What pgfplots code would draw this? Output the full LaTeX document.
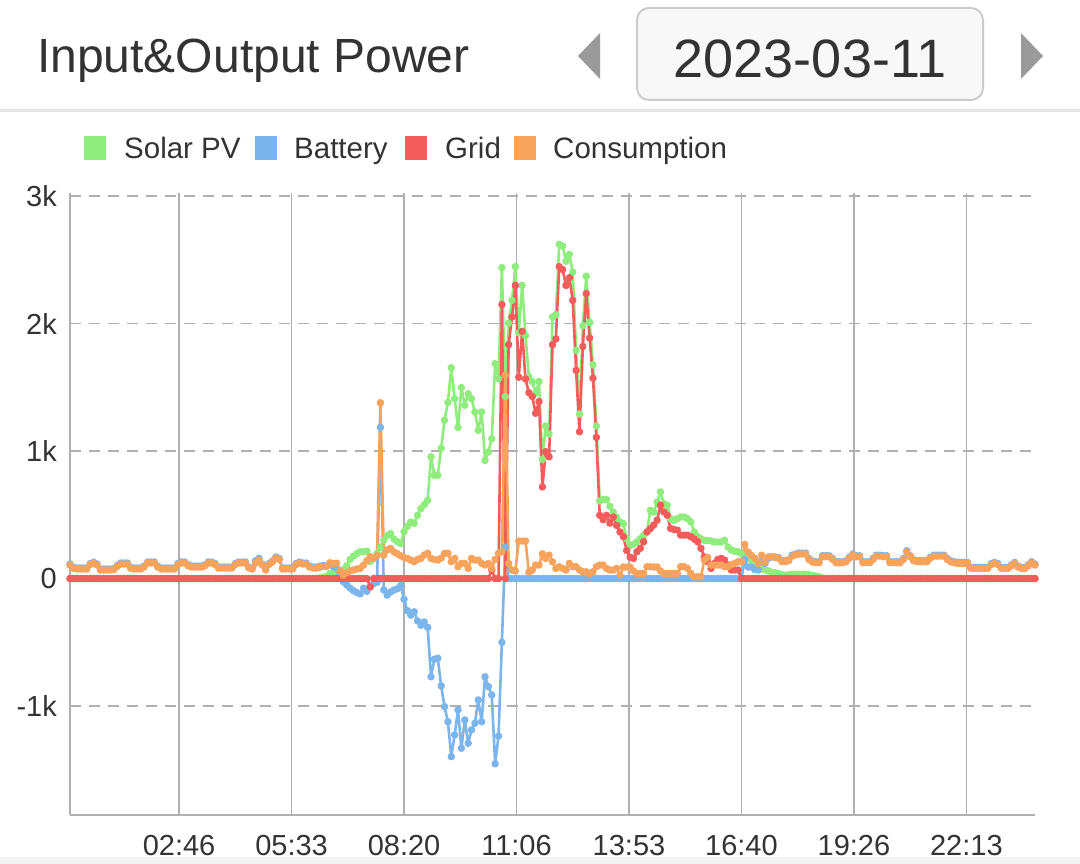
\documentclass[border=0pt]{standalone}
\usepackage{fontspec}
\setmainfont{Liberation Sans}
\usepackage{pgfplots}
\usepackage{pgfplotstable}
\pgfplotsset{compat=1.18}
\definecolor{pvgreen}{HTML}{90ED7D}
\definecolor{batblue}{HTML}{7CB5EC}
\definecolor{gridred}{HTML}{F45B5B}
\definecolor{loadorange}{HTML}{F7A35C}
\definecolor{gridgray}{HTML}{B0B0B0}
\definecolor{textgray}{HTML}{333333}
\definecolor{arrowgray}{HTML}{9A9A9A}
\definecolor{boxgray}{HTML}{CCCCCC}
\definecolor{boxfill}{HTML}{F8F8F8}
\definecolor{sepgray}{HTML}{E4E4E4}
\definecolor{bandgray}{HTML}{F2F2F2}

\pgfplotstableread{
t pv bat grid load
5 0 114 0 106
10 0 88 0 80
15 0 83 0 75
20 0 83 0 75
25 0 83 0 75
30 0 83 0 75
35 0 118 0 110
40 0 128 0 120
45 0 114 0 106
50 0 75 0 67
55 0 75 0 67
60 0 75 0 67
65 0 75 0 67
70 0 78 0 70
75 0 103 0 95
80 0 122 0 114
85 0 122 0 114
90 0 122 0 114
95 0 88 0 80
100 0 83 0 75
105 0 83 0 75
110 0 83 0 75
115 0 98 0 90
120 0 130 0 122
125 0 130 0 122
130 0 130 0 122
135 0 98 0 90
140 0 83 0 75
145 0 83 0 75
150 0 83 0 75
155 0 83 0 75
160 0 83 0 75
165 0 118 0 110
170 0 130 0 122
175 0 130 0 122
180 0 108 0 100
185 0 98 0 90
190 0 98 0 90
195 0 98 0 90
200 0 98 0 90
205 0 108 0 100
210 0 130 0 122
215 0 130 0 122
220 0 118 0 110
225 0 90 0 82
230 0 90 0 82
235 0 90 0 82
240 0 90 0 82
245 0 90 0 82
250 0 118 0 110
255 0 130 0 122
260 0 130 0 122
265 0 130 0 122
270 0 90 0 82
275 0 83 0 75
280 0 140 0 120
285 0 160 0 145
290 0 114 0 106
295 0 75 0 67
300 0 118 0 110
305 0 138 0 130
310 0 169 0 161
315 0 158 0 150
320 0 83 0 75
325 0 83 0 75
330 0 83 0 75
335 0 83 0 75
340 0 118 0 110
345 0 130 0 122
350 0 122 0 114
355 0 122 0 114
360 0 98 0 90
365 0 90 0 82
370 0 90 0 82
375 5 96 0 88
380 10 103 0 95
385 15 100 0 95
390 40 110 0 124
395 50 95 0 118
400 60 80 0 121
405 65 40 0 60
410 70 -25 0 27
415 100 -50 0 45
420 150 -75 0 60
425 176 -95 0 67
430 195 -110 0 75
435 210 -120 0 80
440 210 -75 0 106
445 215 -100 0 140
450 132 -65 -65 171
455 160 -40 0 158
460 200 -30 0 180
465 245 1186 0 1379
470 300 -90 0 184
475 338 -130 0 224
480 352 -105 0 237
485 310 -90 0 210
490 290 -80 0 195
495 275 -55 0 179
500 367 -162 0 165
505 410 -252 0 158
510 443 -287 0 145
515 433 -261 0 132
520 496 -332 0 150
525 549 -366 0 158
530 580 -340 0 185
535 614 -383 0 198
540 955 -770 0 158
545 811 -633 0 150
550 811 -625 0 145
555 1022 -842 0 160
560 1242 -1005 0 198
565 1381 -1123 0 198
570 1654 -1397 0 132
575 1411 -1226 0 158
580 1185 -1030 0 93
585 1499 -1331 0 119
590 1359 -1109 0 119
595 1450 -1292 0 80
600 1411 -1187 0 158
605 1307 -1135 0 145
610 1163 -952 0 145
615 1307 -1123 0 119
620 927 -770 0 106
625 992 -848 0 119
630 1097 -913 67 80
635 1686 -1454 0 150
640 1568 -1236 0 198
645 2440 -500 2150 210
650 1428 246 0 1596
655 2005 0 1835 119
660 2183 0 2053 67
665 2447 0 2300 60
670 1927 0 1580 294
675 2300 0 1940 294
680 1906 0 1565 294
685 1585 0 1459 50
690 1546 0 1428 67
695 1454 0 1297 106
700 1546 0 1389 106
705 935 0 719 194
710 1197 0 995 158
715 1134 0 956 184
720 2053 0 1835 132
725 2071 0 1880 80
730 2622 0 2447 93
735 2609 0 2425 80
740 2490 0 2300 67
745 2543 0 2360 119
750 2404 0 2183 93
755 1790 0 1633 93
760 1291 0 1152 67
765 1984 0 1821 53
770 2372 0 2236 53
775 2010 0 1887 40
780 1677 0 1572 53
785 1197 0 1108 93
790 609 0 496 106
795 620 0 462 106
800 620 0 496 80
805 567 0 435 67
810 522 0 483 67
815 480 0 417 80
820 444 0 366 27
825 431 0 329 90
830 313 0 220 90
835 260 0 168 90
840 270 0 158 60
845 287 0 210 40
850 313 0 237 40
855 340 0 289 40
860 366 0 366 93
865 535 0 392 93
870 522 0 420 90
875 600 0 458 90
880 680 0 575 60
885 588 0 523 40
890 575 0 497 40
895 470 0 393 40
900 457 0 385 40
905 470 0 380 40
910 483 0 341 93
915 483 0 341 93
920 470 0 341 80
925 444 0 328 40
930 366 0 310 14
935 330 0 289 14
940 313 0 237 14
945 300 0 171 145
950 298 0 132 166
955 295 0 80 106
960 287 0 119 106
965 287 0 150 106
970 287 0 158 106
975 300 0 145 93
980 248 0 106 93
985 224 0 67 110
990 215 0 67 119
995 210 0 67 132
1000 196 0 0 132
1005 180 150 0 268
1010 171 90 0 208
1015 140 90 0 180
1020 119 70 0 158
1025 95 67 0 119
1030 75 130 0 184
1035 67 119 0 130
1040 60 160 0 171
1045 50 170 0 171
1050 46 170 0 166
1055 40 165 0 160
1060 30 140 0 132
1065 27 140 0 132
1070 30 148 0 140
1075 35 184 0 176
1080 35 193 0 185
1085 35 200 0 192
1090 35 200 0 192
1095 35 200 0 192
1100 30 158 0 150
1105 25 138 0 130
1110 20 132 0 124
1115 15 132 0 124
1120 5 179 0 171
1125 0 179 0 171
1130 0 179 0 171
1135 0 158 0 150
1140 0 132 0 124
1145 0 132 0 124
1150 0 132 0 124
1155 0 140 0 132
1160 0 168 0 160
1165 0 192 0 184
1170 0 179 0 171
1175 0 179 0 171
1180 0 132 0 124
1185 0 132 0 124
1190 0 132 0 124
1195 0 158 0 150
1200 0 184 0 176
1205 0 184 0 176
1210 0 179 0 171
1215 0 179 0 171
1220 0 132 0 124
1225 0 132 0 124
1230 0 132 0 124
1235 0 132 0 124
1240 0 158 0 150
1245 0 218 0 210
1250 0 179 0 171
1255 0 148 0 140
1260 0 140 0 132
1265 0 140 0 132
1270 0 140 0 132
1275 0 140 0 132
1280 0 168 0 160
1285 0 184 0 176
1290 0 184 0 176
1295 0 184 0 176
1300 0 184 0 176
1305 0 158 0 150
1310 0 140 0 132
1315 0 133 0 125
1320 0 127 0 119
1325 0 127 0 119
1330 0 127 0 119
1335 0 127 0 119
1340 0 88 0 80
1345 0 88 0 80
1350 0 88 0 80
1355 0 88 0 80
1360 0 88 0 80
1365 0 88 0 80
1370 0 118 0 110
1375 0 127 0 119
1380 0 118 0 110
1385 0 88 0 80
1390 0 88 0 80
1395 0 88 0 80
1400 0 108 0 100
1405 0 127 0 119
1410 0 98 0 90
1415 0 88 0 80
1420 0 88 0 80
1425 0 108 0 100
1430 0 132 0 124
1435 0 114 0 106
}\data

\begin{document}
\begin{tikzpicture}
\useasboundingbox (0pt,0pt) rectangle (1080pt,-864pt);
\fill[white] (0pt,0pt) rectangle (1080pt,-864pt);
\fill[bandgray] (0pt,-857pt) rectangle (1080pt,-864pt);
\draw[sepgray, line width=3pt] (0pt,-111pt) -- (1080pt,-111pt);
% title
\node[anchor=base west, inner sep=0pt, font=\fontsize{48pt}{56pt}\selectfont, text=textgray] at (37pt,-73pt) {Input\&Output Power};
% arrows
\fill[arrowgray] (578pt,-56pt) -- (600pt,-33pt) -- (600pt,-79pt) -- cycle;
\fill[arrowgray] (1021pt,-33pt) -- (1043pt,-56pt) -- (1021pt,-79pt) -- cycle;
% date box
\draw[boxgray, fill=boxfill, line width=2pt, rounded corners=12pt] (637pt,-8pt) rectangle (983pt,-100pt);
\node[anchor=base, inner sep=0pt, font=\fontsize{54pt}{60pt}\selectfont, text=textgray] at (810pt,-78pt) {2023-03-11};
% legend
\fill[pvgreen] (84pt,-136pt) rectangle (106pt,-160pt);
\node[anchor=base west, inner sep=0pt, font=\fontsize{29.5pt}{34pt}\selectfont, text=textgray] at (124pt,-159pt) {Solar PV};
\fill[batblue] (255pt,-136pt) rectangle (277pt,-160pt);
\node[anchor=base west, inner sep=0pt, font=\fontsize{29.5pt}{34pt}\selectfont, text=textgray] at (294pt,-159pt) {Battery};
\fill[gridred] (405pt,-136pt) rectangle (427pt,-160pt);
\node[anchor=base west, inner sep=0pt, font=\fontsize{29.5pt}{34pt}\selectfont, text=textgray] at (445pt,-159pt) {Grid};
\fill[loadorange] (514pt,-136pt) rectangle (536pt,-160pt);
\node[anchor=base west, inner sep=0pt, font=\fontsize{29.5pt}{34pt}\selectfont, text=textgray] at (553pt,-159pt) {Consumption};

\begin{axis}[
  at={(70pt,-815pt)}, anchor=south west,
  scale only axis, width=965pt, height=622pt,
  xmin=5, xmax=1435, ymin=-1855, ymax=3025,
  axis x line*=bottom, axis y line*=left,
  axis line style={draw=gridgray, line width=1.5pt, -},
  xtick={166.667,333.333,500,666.667,833.333,1000,1166.667,1333.333},
  xticklabels={02:46,05:33,08:20,11:06,13:53,16:40,19:26,22:13},
  ytick={-1000,0,1000,2000,3000},
  yticklabels={-1k,0,1k,2k,3k},
  major tick length=0pt,
  xmajorgrids=true, ymajorgrids=true,
  x grid style={draw=gridgray, line width=1.5pt},
  y grid style={draw=gridgray, line width=1.5pt, dash pattern=on 11pt off 8pt},
  xticklabel style={font=\fontsize{29pt}{34pt}\selectfont, text=textgray, anchor=north, inner sep=0pt, yshift=-20pt},
  yticklabel style={font=\fontsize{29pt}{34pt}\selectfont, text=textgray, anchor=east, inner sep=0pt, xshift=-13pt},
  every axis plot/.append style={line width=2.6pt, line join=round, mark=*, mark size=2.4pt},
]
\addplot[pvgreen, mark options={fill=pvgreen, draw=pvgreen}] table[x=t, y=pv] {\data};
\addplot[batblue, mark options={fill=batblue, draw=batblue}] table[x=t, y=bat] {\data};
\addplot[gridred, mark options={fill=gridred, draw=gridred}] table[x=t, y=grid] {\data};
\addplot[loadorange, mark options={fill=loadorange, draw=loadorange}] table[x=t, y=load] {\data};
\end{axis}
\end{tikzpicture}
\end{document}
